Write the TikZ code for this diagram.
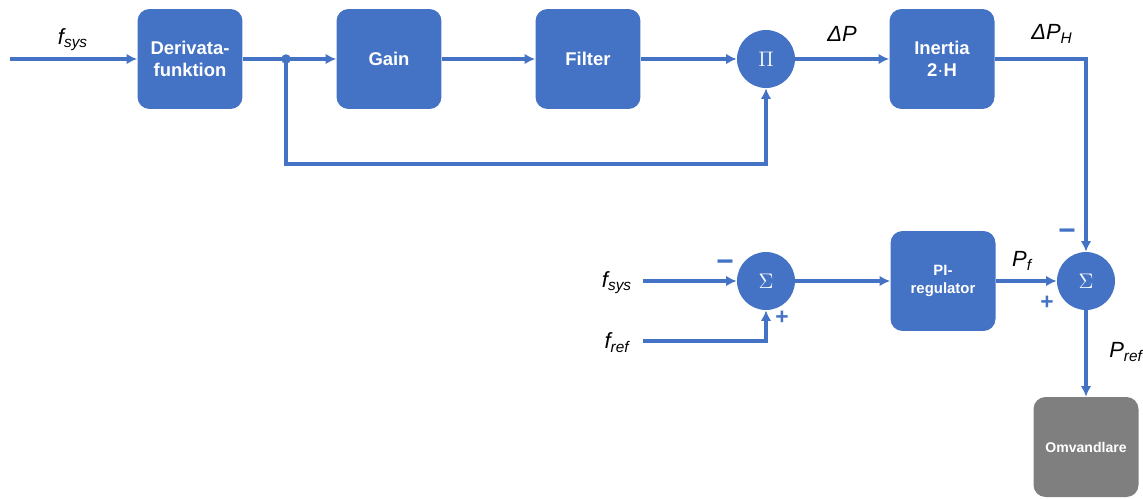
\documentclass[tikz,border=0pt]{standalone}
\usepackage{fontspec}
\setmainfont{Liberation Sans}
\usetikzlibrary{arrows.meta}
\definecolor{blk}{HTML}{4472C4}
\definecolor{gry}{HTML}{7F7F7F}

\begin{document}
\begin{tikzpicture}[x=0.02cm,y=-0.02cm,
		box/.style={fill=blk,rounded corners=0.24cm,minimum width=2.1cm,minimum height=2cm,
			inner sep=0pt,align=center,text=white,font=\bfseries\fontsize{10.5}{12.5}\selectfont},
		sum/.style={circle,fill=blk,minimum size=1.16cm,inner sep=0pt,text=white,font=\fontsize{12}{14}\selectfont},
		lab/.style={font=\itshape\fontsize{12.5}{14}\selectfont,inner sep=0pt},
		sgn/.style={text=blk,font=\bfseries\fontsize{13}{14}\selectfont,inner sep=0pt},
		arr/.style={draw=blk,line width=1.9pt,-{Latex[length=6pt,width=6pt]}},
		ln/.style={draw=blk,line width=1.9pt}]
		\useasboundingbox (0,0) rectangle (1143,498);
		% upper chain
		\coordinate (in) at (10,59);
		\node[box] (D) at (190,59) {Derivata-\\funktion};
		\node[circle,fill=blk,inner sep=0pt,minimum size=0.19cm] (J) at (286,59) {};
		\node[box] (G) at (389,59) {Gain};
		\node[box] (F) at (588,59) {Filter};
		\node[sum] (M) at (766,59) {$\Pi$};
		\node[box] (I) at (942,59) {Inertia\\2{\fontspec{Liberation Sans}\mdseries·}H};
		% lower chain
		\coordinate (fs) at (643,281);
		\coordinate (fr) at (643,341);
		\node[sum] (S1) at (766,281) {$\Sigma$};
		\node[box,font=\bfseries\fontsize{8.5}{10}\selectfont] (R) at (943,281) {PI-\\regulator};
		\node[sum] (S2) at (1086,281) {$\Sigma$};
		\node[box,fill=gry,font=\bfseries\fontsize{8}{10}\selectfont] (O) at (1086,447) {Omvandlare};
		% connections
		\draw[arr] (in) -- (D);
		\draw[ln] (D) -- (J.center);
		\draw[arr] (J.center) -- (G);
		\draw[arr] (G) -- (F);
		\draw[arr] (F) -- (M);
		\draw[arr] (J.center) -- ++(0,105) -| (M);
		\draw[arr] (M) -- (I);
		\draw[arr] (I) -| (S2);
		\draw[arr] (fs) -- (S1);
		\draw[arr] (fr) -| (S1);
		\draw[arr] (S1) -- (R);
		\draw[arr] (R) -- (S2);
		\draw[arr] (S2) -- (O);
		% labels
		\node[lab] (l1) at (73,40) {f\textsubscript{sys}};
		\node[lab] (l2) at (842,34) {ΔP};
		\node[lab] (l3) at (1052,34) {ΔP\textsubscript{H}};
		\node[lab] (l4) at (617,283) {f\textsubscript{sys}};
		\node[lab] (l5) at (617,343) {f\textsubscript{ref}};
		\node[lab] (l6) at (1022,261) {P\textsubscript{f}};
		\node[lab] (l7) at (1126,352) {P\textsubscript{ref}};
		\node[sgn,font=\bfseries\fontsize{17}{18}\selectfont] (m1) at (725,266) {−};
		\node[sgn] (p1) at (782,318) {+};
		\node[sgn,font=\bfseries\fontsize{17}{18}\selectfont] (m2) at (1067,235) {−};
		\node[sgn] (p2) at (1047,303) {+};
	\end{tikzpicture}
\end{document}
